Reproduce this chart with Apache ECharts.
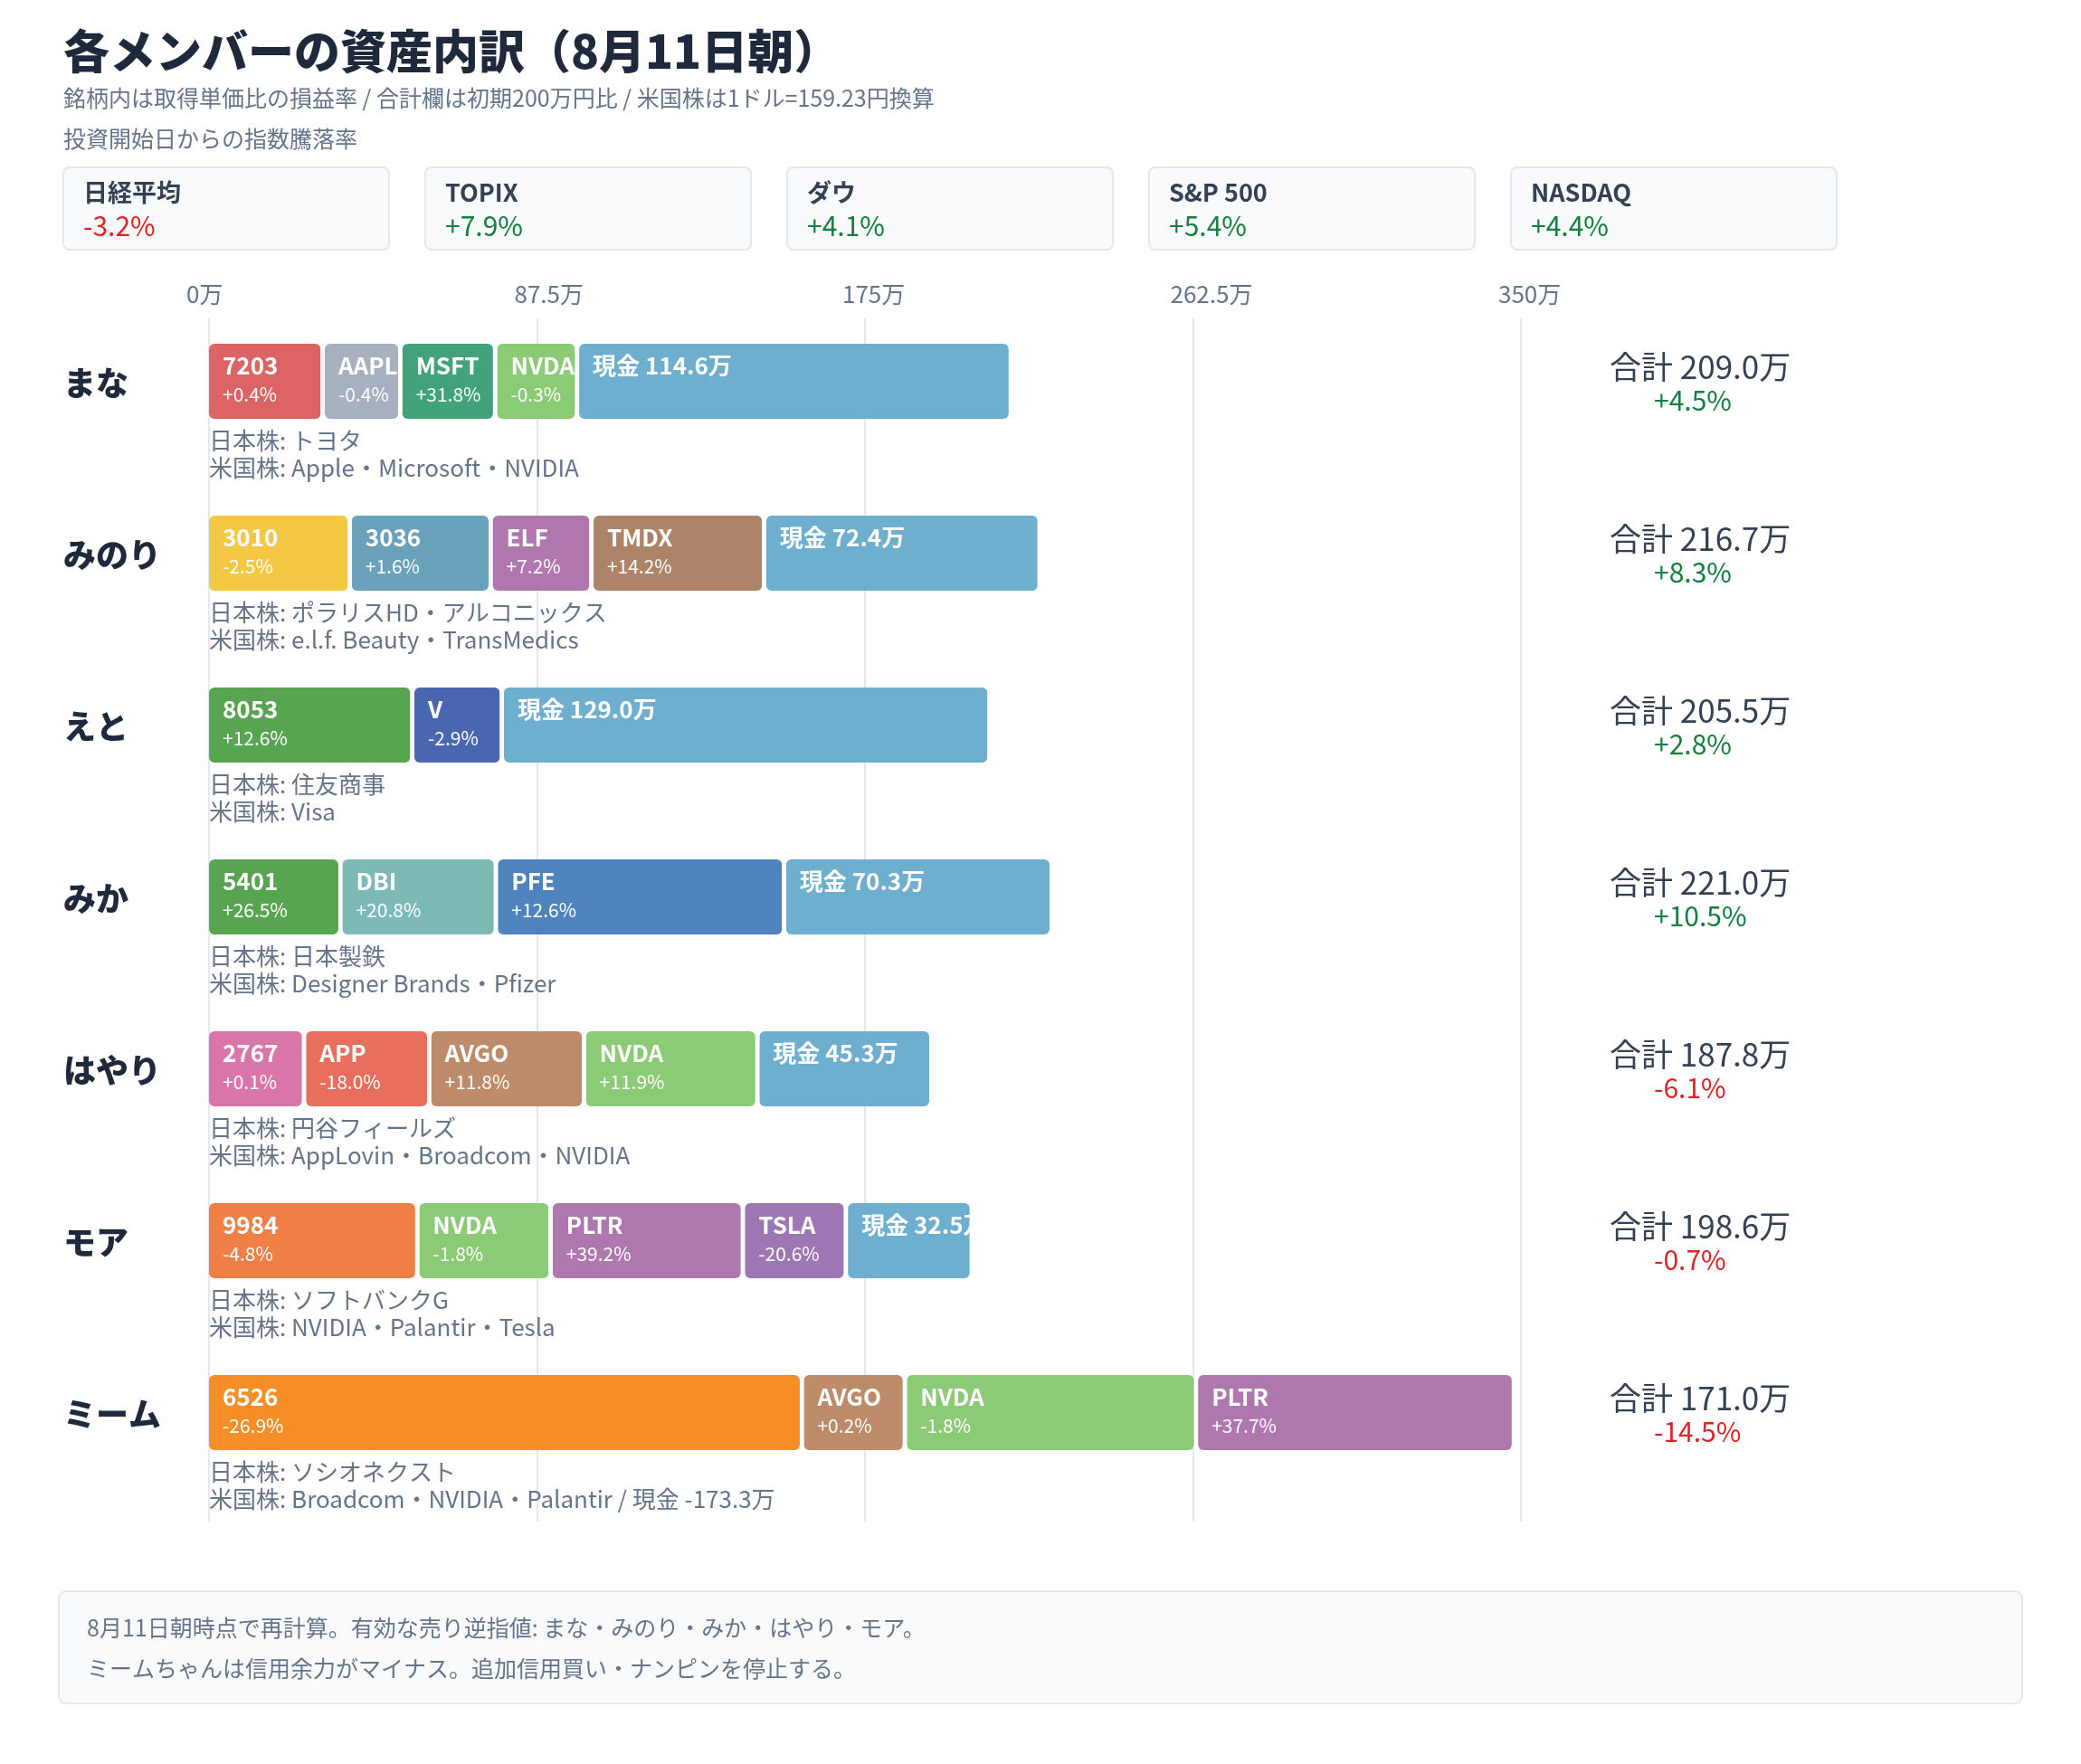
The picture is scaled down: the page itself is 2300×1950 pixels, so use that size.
<!DOCTYPE html>
<html><head><meta charset="utf-8">
<script src="https://cdn.jsdelivr.net/npm/echarts@6/dist/echarts.min.js"></script>
<style>html,body{margin:0;padding:0;background:#fff}#c{width:2300px;height:1950px}</style>
</head><body><div id="c"></div>
<script>
const FONT = '"Noto Sans CJK JP","Noto Sans",sans-serif';
const titleText = '各メンバーの資産内訳（8月11日朝）';
const subtitleText = '銘柄内は取得単価比の損益率 / 合計欄は初期200万円比 / 米国株は1ドル=159.23円換算';
const indexCaption = '投資開始日からの指数騰落率';
const indexNames = ['日経平均', 'TOPIX', 'ダウ', 'S&P 500', 'NASDAQ'];
const indexChanges = [-3.2, 7.9, 4.1, 5.4, 4.4];

const members = ['まな', 'みのり', 'えと', 'みか', 'はやり', 'モア', 'ミーム'];
const stockTickers = [
  ['7203', 'AAPL', 'MSFT', 'NVDA'],
  ['3010', '3036', 'ELF', 'TMDX'],
  ['8053', 'V'],
  ['5401', 'DBI', 'PFE'],
  ['2767', 'APP', 'AVGO', 'NVDA'],
  ['9984', 'NVDA', 'PLTR', 'TSLA'],
  ['6526', 'AVGO', 'NVDA', 'PLTR']
];
const stockValues = [
  [29.8, 19.6, 24.2, 20.8],
  [37.0, 36.5, 25.8, 45.0],
  [53.7, 22.8],
  [34.5, 40.4, 75.8],
  [24.8, 32.3, 40.2, 45.2],
  [55.0, 34.5, 50.2, 26.4],
  [157.6, 26.4, 76.6, 83.7]
];
const stockPnl = [
  [0.4, -0.4, 31.8, -0.3],
  [-2.5, 1.6, 7.2, 14.2],
  [12.6, -2.9],
  [26.5, 20.8, 12.6],
  [0.1, -18.0, 11.8, 11.9],
  [-4.8, -1.8, 39.2, -20.6],
  [-26.9, 0.2, -1.8, 37.7]
];
const cashValues = [114.6, 72.4, 129.0, 70.3, 45.3, 32.5, -173.3];
const totalValues = [209.0, 216.7, 205.5, 221.0, 187.8, 198.6, 171.0];
const totalPnl = [4.5, 8.3, 2.8, 10.5, -6.1, -0.7, -14.5];
const jpNames = ['トヨタ', 'ポラリスHD・アルコニックス', '住友商事', '日本製鉄', '円谷フィールズ', 'ソフトバンクG', 'ソシオネクスト'];
const usNames = ['Apple・Microsoft・NVIDIA', 'e.l.f. Beauty・TransMedics', 'Visa', 'Designer Brands・Pfizer', 'AppLovin・Broadcom・NVIDIA', 'NVIDIA・Palantir・Tesla', 'Broadcom・NVIDIA・Palantir'];
const axisMin = 0, axisMax = 350, axisStep = 87.5;
const notes = [
  '8月11日朝時点で再計算。有効な売り逆指値: まな・みのり・みか・はやり・モア。',
  'ミームちゃんは信用余力がマイナス。追加信用買い・ナンピンを停止する。'
];

const tickerColors = {
  '7203': '#dc6464', 'AAPL': '#a7b0bf', 'MSFT': '#42a37b', 'NVDA': '#8bcb75', 'CASH': '#6eafcf',
  '3010': '#f5c843', '3036': '#69a1bb', 'ELF': '#b077ae', 'TMDX': '#ae8468',
  '8053': '#57a550', 'V': '#4867b0', '5401': '#57a550', 'DBI': '#7dbab6', 'PFE': '#4f83bd',
  '2767': '#d975a9', 'APP': '#e86e5e', 'AVGO': '#bd8b6a', '9984': '#f07f45',
  'PLTR': '#ae77ad', 'TSLA': '#9d77b3', '6526': '#f58e26'
};
const GREEN = '#15803d', RED = '#dc2626';
const fmtPct = v => (v >= 0 ? '+' : '') + v.toFixed(1) + '%';

const segs = [];
members.forEach((m, i) => {
  const labels = stockTickers[i].slice();
  const vals = stockValues[i].slice();
  const pn = stockPnl[i].slice();
  const cols = stockTickers[i].map(t => tickerColors[t]);
  if (cashValues[i] > 0) {
    labels.push('現金 ' + cashValues[i].toFixed(1) + '万');
    vals.push(cashValues[i]); pn.push(null); cols.push(tickerColors.CASH);
  }
  let acc = 0;
  vals.forEach((v, k) => {
    segs.push({ value: [acc, acc + v, i, k], label: labels[k], pnl: pn[k], color: cols[k] });
    acc += v;
  });
});

const GAP = 4.5, BAR_H = 83, BAR_SHIFT = -25.5;

function renderSeg(params, api) {
  const s = segs[params.dataIndex];
  const row = api.value(2);
  const p0 = api.coord([api.value(0), row]);
  const p1 = api.coord([api.value(1), row]);
  const x = p0[0] + api.value(3) * GAP;
  const w = p1[0] - p0[0];
  const y = p0[1] + BAR_SHIFT - BAR_H / 2;
  const children = [
    { type: 'rect', shape: { x: x, y: y, width: w, height: BAR_H, r: 6 }, style: { fill: s.color } },
    { type: 'text', style: { x: x + 15, y: y + 24, text: s.label, fill: '#fff', fontSize: 26, fontWeight: 'bold', fontFamily: FONT, verticalAlign: 'middle', align: 'left' } }
  ];
  if (s.pnl !== null) {
    children.push({ type: 'text', style: { x: x + 15, y: y + 56, text: fmtPct(s.pnl), fill: '#fff', fontSize: 21, fontFamily: FONT, verticalAlign: 'middle', align: 'left' } });
  }
  return { type: 'group', children: children, clipPath: { type: 'rect', shape: { x: x, y: y, width: w, height: BAR_H } } };
}

function renderDesc(params, api) {
  const i = api.value(1);
  const p = api.coord([api.value(0), i]);
  let us = '米国株: ' + usNames[i];
  if (cashValues[i] < 0) us += ' / 現金 ' + cashValues[i].toFixed(1) + '万';
  const st = { fill: '#64748b', fontSize: 26, fontFamily: FONT, verticalAlign: 'middle', align: 'left' };
  return { type: 'group', children: [
    { type: 'text', style: Object.assign({ x: p[0], y: p[1] + 40, text: '日本株: ' + jpNames[i] }, st) },
    { type: 'text', style: Object.assign({ x: p[0], y: p[1] + 70, text: us }, st) }
  ] };
}

const graphics = [
  { type: 'text', left: 70, top: 31, style: { text: titleText, fontSize: 51, fontWeight: 900, fontFamily: FONT, fill: '#1e293b' } },
  { type: 'text', left: 70, top: 96, style: { text: subtitleText, fontSize: 25, fontFamily: FONT, fill: '#64748b' } },
  { type: 'text', left: 70, top: 141, style: { text: indexCaption, fontSize: 25, fontFamily: FONT, fill: '#64748b' } }
];
indexNames.forEach((n, k) => {
  const bx = 70 + k * 400;
  graphics.push({ type: 'rect', shape: { x: bx, y: 185, width: 360, height: 91, r: 7 }, style: { fill: '#f8fafc', stroke: '#e2e8f0', lineWidth: 2 } });
  graphics.push({ type: 'text', x: bx + 22, y: 213, style: { text: n, fontSize: 27, fontWeight: 'bold', fontFamily: FONT, fill: '#334155', verticalAlign: 'middle' } });
  graphics.push({ type: 'text', x: bx + 22, y: 250, style: { text: fmtPct(indexChanges[k]), fontSize: 30, fontFamily: FONT, fill: indexChanges[k] >= 0 ? GREEN : RED, verticalAlign: 'middle' } });
});
graphics.push({ type: 'rect', shape: { x: 65, y: 1759, width: 2170, height: 124, r: 8 }, style: { fill: '#f8fafc', stroke: '#e2e8f0', lineWidth: 2 } });
notes.forEach((t, k) => {
  graphics.push({ type: 'text', x: 96, y: 1799 + k * 45, style: { text: t, fontSize: 25, fontFamily: FONT, fill: '#64748b', verticalAlign: 'middle' } });
});

const chart = echarts.init(document.getElementById('c'), null, { renderer: 'canvas' });
chart.setOption({
  backgroundColor: '#ffffff',
  animation: false,
  textStyle: { fontFamily: FONT },
  grid: { left: 231, right: 619, top: 352, height: 1330 },
  xAxis: {
    type: 'value', position: 'top', min: axisMin, max: axisMax, interval: axisStep,
    axisLine: { show: false }, axisTick: { show: false },
    splitLine: { show: true, lineStyle: { color: '#e2e8f0', width: 2 } },
    axisLabel: { formatter: v => v + '万', fontSize: 26, color: '#64748b', fontFamily: FONT, align: 'left', padding: [0, 0, 0, -25], margin: 14, showMinLabel: true, showMaxLabel: true }
  },
  yAxis: [
    {
      type: 'category', data: members, inverse: true,
      axisLine: { show: false }, axisTick: { show: false }, splitLine: { show: false },
      axisLabel: {
        interval: 0, align: 'left', margin: 161, padding: [0, 0, 47, 0],
        formatter: v => '{n|' + v + '}',
        rich: { n: { fontSize: 36, fontWeight: 900, color: '#1e293b', fontFamily: FONT, lineHeight: 44 } }
      }
    },
    {
      type: 'category', data: members, inverse: true, position: 'right',
      axisLine: { show: false }, axisTick: { show: false }, splitLine: { show: false },
      axisLabel: {
        interval: 0, align: 'left', margin: 98, padding: [0, 0, 45, 0],
        formatter: (v, i) => '{t|合計 ' + totalValues[i].toFixed(1) + '万}\n{' + (totalPnl[i] >= 0 ? 'g' : 'r') + '|' + fmtPct(totalPnl[i]) + '}',
        rich: {
          t: { fontSize: 35, color: '#334155', fontFamily: FONT, lineHeight: 37 },
          g: { fontSize: 30, color: GREEN, fontFamily: FONT, lineHeight: 37, padding: [0, 0, 0, 49] },
          r: { fontSize: 30, color: RED, fontFamily: FONT, lineHeight: 37, padding: [0, 0, 0, 49] }
        }
      }
    }
  ],
  series: [
    { type: 'custom', name: 'holdings', renderItem: renderSeg, encode: { x: [0, 1], y: 2 }, data: segs.map(s => ({ value: s.value, name: s.label })) },
    { type: 'custom', name: 'desc', renderItem: renderDesc, encode: { x: 0, y: 1 }, data: members.map((m, i) => [0, i]) }
  ],
  graphic: graphics
});
</script></body></html>
